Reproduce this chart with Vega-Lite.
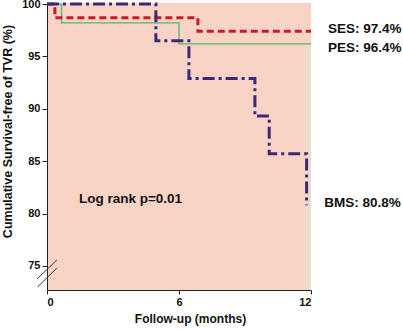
{
  "$schema": "https://vega.github.io/schema/vega-lite/v6.json",
  "width": 264,
  "height": 287,
  "autosize": {"type": "none"},
  "padding": {"left": 47, "top": 3, "right": 92, "bottom": 39},
  "background": "white",
  "config": {
    "view": {"stroke": null, "fill": "#f9d4c6"},
    "axis": {
      "grid": false,
      "labelFont": "Liberation Sans",
      "labelFontWeight": "bold",
      "labelFontSize": 11,
      "labelColor": "#111",
      "titleFont": "Liberation Sans",
      "titleFontWeight": "bold",
      "titleFontSize": 12,
      "titleColor": "#111",
      "domainColor": "#222",
      "tickColor": "#222",
      "tickSize": 4
    }
  },
  "datasets": {
    "curves": [
      {"group": "BMS", "t": 0, "s": 100},
      {"group": "BMS", "t": 4.95, "s": 96.5},
      {"group": "BMS", "t": 6.45, "s": 92.9},
      {"group": "BMS", "t": 9.45, "s": 89.3},
      {"group": "BMS", "t": 10.1, "s": 85.7},
      {"group": "BMS", "t": 11.8, "s": 80.8},
      {"group": "SES", "t": 0, "s": 100},
      {"group": "SES", "t": 0.36, "s": 98.7},
      {"group": "SES", "t": 6.86, "s": 97.4},
      {"group": "SES", "t": 12, "s": 97.4},
      {"group": "PES", "t": 0, "s": 100},
      {"group": "PES", "t": 0.66, "s": 98.2},
      {"group": "PES", "t": 6.0, "s": 96.2},
      {"group": "PES", "t": 12, "s": 96.2}
    ],
    "labels": [
      {"t": 12.77, "s": 97.23, "label": "SES: 97.4%"},
      {"t": 12.77, "s": 95.42, "label": "PES: 96.4%"},
      {"t": 12.6, "s": 80.66, "label": "BMS: 80.8%"},
      {"t": 1.45, "s": 81.01, "label": "Log rank p=0.01"}
    ],
    "breaks": [
      {"x1": -0.45, "y1": 73.76, "x2": 0.45, "y2": 75.57},
      {"x1": -0.42, "y1": 73.0, "x2": 0.45, "y2": 74.8}
    ],
    "strip": [
      {"x1": 11.75, "x2": 12, "y1": 72.7, "y2": 96.2}
    ]
  },
  "layer": [
    {
      "data": {"name": "strip"},
      "mark": {"type": "rect", "color": "#ecdcc8"},
      "encoding": {
        "x": {"field": "x1", "type": "quantitative", "scale": {"domain": [0, 12], "nice": false}},
        "x2": {"field": "x2"},
        "y": {"field": "y1", "type": "quantitative", "scale": {"domain": [72.7, 100.1], "nice": false, "zero": false}},
        "y2": {"field": "y2"}
      }
    },
    {
      "data": {"name": "curves"},
      "transform": [{"filter": "datum.group === 'PES'"}],
      "mark": {"type": "line", "interpolate": "step-after", "color": "#4cb86b", "strokeWidth": 1.3},
      "encoding": {
        "x": {"field": "t", "type": "quantitative", "scale": {"domain": [0, 12], "nice": false},
          "axis": {"values": [0, 6, 12], "title": "Follow-up (months)", "labelPadding": 2, "titleX": 143, "titleY": 32.7, "titleBaseline": "alphabetic", "titleAlign": "center"}},
        "y": {"field": "s", "type": "quantitative", "scale": {"domain": [72.7, 100.1], "nice": false, "zero": false},
          "axis": {"values": [75, 80, 85, 90, 95, 100], "title": "Cumulative Survival-free of TVR (%)", "tickSize": 5, "labelPadding": 2, "titleX": -36, "titleY": 128, "titleBaseline": "alphabetic", "titleAlign": "center", "titleFontSize": 12.5}}
      }
    },
    {
      "data": {"name": "curves"},
      "transform": [{"filter": "datum.group === 'SES'"}],
      "mark": {"type": "line", "interpolate": "step-after", "color": "#c81b2a", "strokeWidth": 3, "strokeDash": [7, 4]},
      "encoding": {
        "x": {"field": "t", "type": "quantitative"},
        "y": {"field": "s", "type": "quantitative"}
      }
    },
    {
      "data": {"name": "curves"},
      "transform": [{"filter": "datum.group === 'BMS'"}],
      "mark": {"type": "line", "interpolate": "step-after", "color": "#3b2878", "strokeWidth": 3, "strokeDash": [12, 4, 3, 4]},
      "encoding": {
        "x": {"field": "t", "type": "quantitative"},
        "y": {"field": "s", "type": "quantitative"}
      }
    },
    {
      "data": {"name": "breaks"},
      "mark": {"type": "rule", "color": "#333", "strokeWidth": 1},
      "encoding": {
        "x": {"field": "x1", "type": "quantitative"},
        "y": {"field": "y1", "type": "quantitative"},
        "x2": {"field": "x2"},
        "y2": {"field": "y2"}
      }
    },
    {
      "data": {"name": "labels"},
      "mark": {"type": "text", "align": "left", "baseline": "alphabetic", "font": "Liberation Sans", "fontWeight": "bold", "fontSize": 13.5, "color": "#111"},
      "encoding": {
        "x": {"field": "t", "type": "quantitative"},
        "y": {"field": "s", "type": "quantitative"},
        "text": {"field": "label"}
      }
    }
  ]
}
